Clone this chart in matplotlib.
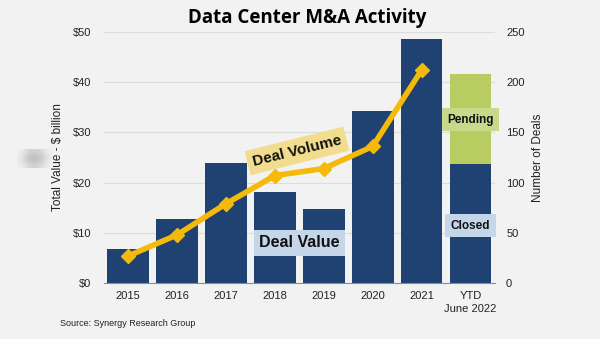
import matplotlib.pyplot as plt
import numpy as np

years = ['2015', '2016', '2017', '2018', '2019', '2020', '2021', 'YTD\nJune 2022']
closed_value = [6.8, 12.7, 23.9, 18.2, 14.7, 34.3, 48.6, 23.6]   # $ billion
pending_value = [0, 0, 0, 0, 0, 0, 0, 18.0]
deal_volume = [27, 48, 79, 107, 114, 136, 212]                     # number of deals

navy = '#1f4273'
green = '#b9cc62'
gold = '#f4b90a'
bg = '#f2f2f2'

plt.rcParams['font.family'] = ['Liberation Sans', 'DejaVu Sans']

fig = plt.figure(figsize=(6, 3.39), dpi=100, facecolor=bg)
ax = fig.add_axes([0.173, 0.165, 0.652, 0.741], facecolor=bg)

x = np.arange(len(years))
ax.bar(x, closed_value, width=0.85, color=navy, zorder=2)
ax.bar(x, pending_value, width=0.85, bottom=closed_value, color=green, zorder=2)

ax.set_xlim(-0.5, len(years) - 0.5)
ax.set_ylim(0, 50)
ax.set_yticks(range(0, 51, 10))
ax.set_yticklabels([f'${v}' for v in range(0, 51, 10)])
ax.set_xticks(x)
ax.set_xticklabels(years, linespacing=1.3)
ax.grid(axis='y', color='#dcdcdc', lw=0.8, zorder=0)
for s in ['top', 'left', 'right']:
    ax.spines[s].set_visible(False)
ax.spines['bottom'].set_color('#8c8c8c')
ax.tick_params(axis='both', length=0, labelsize=8, colors='#222222')
ax.tick_params(axis='y', pad=9)
ax.tick_params(axis='x', pad=6)
ax.set_ylabel('Total Value - $ billion', fontsize=8.5, color='#222222', labelpad=6)

# deal count on the secondary axis
ax2 = ax.twinx()
ax2.set_ylim(0, 250)
ax2.set_yticks(range(0, 251, 50))
ax2.plot(x[:len(deal_volume)], deal_volume, color=gold, lw=4, marker='D',
         markersize=7, zorder=3)
for s in ['top', 'left', 'right', 'bottom']:
    ax2.spines[s].set_visible(False)
ax2.tick_params(axis='y', length=0, labelsize=8, colors='#222222', pad=8)
ax2.set_ylabel('Number of Deals', fontsize=8.5, color='#222222', labelpad=5)

fig.text(0.512, 0.948, 'Data Center M&A Activity', ha='center', va='center',
         fontsize=13.5, fontweight='bold', family='Open Sans')

# callout labels
ax.text(3.45, 26.3, 'Deal Volume', ha='center', va='center', fontsize=11,
        fontweight='bold', rotation=14, color='#111111', zorder=5,
        bbox=dict(boxstyle='square,pad=0.35', fc='#f2dc8e', ec='none'))
ax.text(3.5, 8.0, 'Deal Value', ha='center', va='center', fontsize=11.5,
        fontweight='bold', color='#111111', zorder=5,
        bbox=dict(boxstyle='square,pad=0.35', fc='#c5d5ea', ec='none'))
ax.text(7.0, 32.5, 'Pending', ha='center', va='center', fontsize=8.5,
        fontweight='bold', color='#111111', zorder=5,
        bbox=dict(boxstyle='square,pad=0.45', fc='#c8d98c', ec='none'))
ax.text(7.0, 11.4, 'Closed', ha='center', va='center', fontsize=8.5,
        fontweight='bold', color='#111111', zorder=5,
        bbox=dict(boxstyle='square,pad=0.45', fc='#c5d5ea', ec='none'))

fig.text(0.1, 0.047, 'Source: Synergy Research Group', fontsize=6.5,
         color='#222222', va='center')

# faint smudge at the left edge
smudge = fig.add_axes([0.028, 0.505, 0.06, 0.055])
smudge.imshow(np.array([[0.94, 0.84, 0.82, 0.85, 0.94],
                        [0.91, 0.74, 0.70, 0.77, 0.92],
                        [0.94, 0.86, 0.82, 0.87, 0.95]]),
              cmap='gray', vmin=0, vmax=1, interpolation='bicubic', aspect='auto')
smudge.axis('off')

fig.savefig('out.png', dpi=100, facecolor=bg)
